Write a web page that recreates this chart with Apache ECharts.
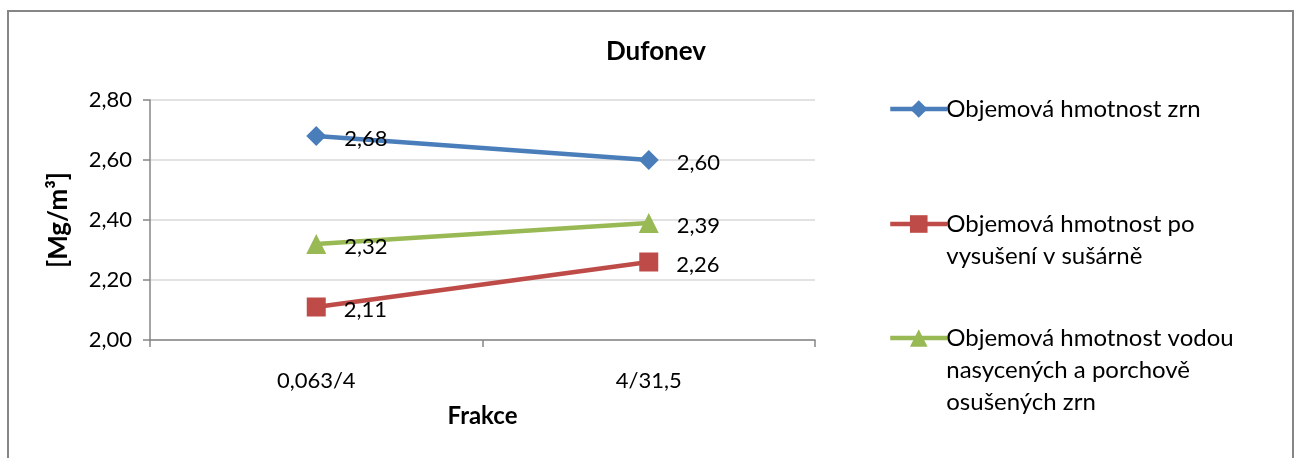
<!DOCTYPE html>
<html>
<head>
<meta charset="utf-8">
<script src="https://cdn.jsdelivr.net/npm/echarts@6/dist/echarts.min.js"></script>
<style>
  html, body { margin: 0; padding: 0; background: #fff; }
  #chart { width: 1298px; height: 458px; }
</style>
</head>
<body>
<div id="chart"></div>
<script>
// kategorie (frakce)
const categories = ['0,063/4', '4/31,5'];

// hodnoty serii
const zrn = [2.68, 2.60];
const susarna = [2.11, 2.26];
const nasycene = [2.32, 2.39];

const seriesNames = [
    'Objemová hmotnost zrn',
    'Objemová hmotnost po vysušení v sušárně',
    'Objemová hmotnost vodou nasycených a porchově osušených zrn'
];

// zalomeni textu legendy
const legendLines = [
    ['Objemová hmotnost zrn'],
    ['Objemová hmotnost po', 'vysušení v sušárně'],
    ['Objemová hmotnost vodou', 'nasycených a porchově', 'osušených zrn']
];

const yTicks = { min: 2.0, max: 2.8, interval: 0.2 };

const colors = ['#4A7EBB', '#BE4B48', '#98B954'];
const symbols = ['diamond', 'rect', 'triangle'];
const symbolSizes = [[20, 20], 19, 20];
const FONT = 'Lato';

window.onload = function () {
    let chart = echarts.init(document.getElementById('chart'));

    function fmt(v) {
        return v.toFixed(2).replace('.', ',');
    }

    let seriesData = [zrn, susarna, nasycene];
    let series = [];
    for (let i = 0; i < seriesData.length; i++) {
        series.push({
            name: seriesNames[i],
            type: 'line',
            data: seriesData[i],
            symbol: symbols[i],
            symbolSize: symbolSizes[i],
            itemStyle: { color: colors[i] },
            lineStyle: { color: colors[i], width: 4.5 },
            label: {
                show: true,
                position: 'right',
                distance: 18,
                offset: [0, 3],
                fontFamily: FONT,
                fontSize: 22,
                color: '#000',
                formatter: function (p) { return fmt(p.value); }
            },
            z: 3 - i
        });
    }

    // kazda polozka legendy zvlast, ikona u prvniho radku
    let legendTops = [108, 223, 337];
    let legends = [];
    for (let i = 0; i < seriesNames.length; i++) {
        let lines = legendLines[i];
        let pad = [];
        for (let k = 1; k < lines.length; k++) pad.push('\u00a0');
        let text = pad.concat(lines).join('\n');
        legends.push({
            data: [seriesNames[i]],
            left: 883,
            top: legendTops[i] - 20 - 32 * (lines.length - 1),
            itemWidth: 57,
            itemHeight: 22,
            itemGap: 0,
            lineStyle: { width: 4.5 },
            formatter: function () { return text; },
            textStyle: {
                fontFamily: FONT,
                fontSize: 24,
                color: '#000',
                lineHeight: 32,
                padding: [0, 0, 0, -6]
            },
            selectedMode: false
        });
    }

    let option = {
        animation: false,
        backgroundColor: '#fff',
        title: {
            text: 'Dufonev',
            left: 651,
            top: 34,
            textAlign: 'center',
            textStyle: { fontFamily: FONT, fontSize: 26, fontWeight: 'bold', color: '#000' }
        },
        graphic: [{
            type: 'rect',
            shape: { x: 8, y: 11, width: 1285, height: 470 },
            style: { fill: null, stroke: '#868686', lineWidth: 2 },
            silent: true
        }],
        legend: legends,
        grid: { left: 150, right: 483, top: 100, bottom: 118 },
        xAxis: {
            type: 'category',
            data: categories,
            boundaryGap: true,
            name: 'Frakce',
            nameLocation: 'middle',
            nameGap: 64,
            nameTextStyle: { fontFamily: FONT, fontSize: 24, fontWeight: 'bold', color: '#000' },
            axisLine: { lineStyle: { color: '#868686', width: 1.5 } },
            axisTick: { show: true, length: 7, lineStyle: { color: '#868686', width: 1.5 } },
            axisLabel: { margin: 30, fontFamily: FONT, fontSize: 22, color: '#000' }
        },
        yAxis: {
            type: 'value',
            min: yTicks.min,
            max: yTicks.max,
            interval: yTicks.interval,
            name: '[Mg/m³]',
            nameLocation: 'middle',
            nameGap: 78,
            nameRotate: 90,
            nameTextStyle: { fontFamily: FONT, fontSize: 26, fontWeight: 'bold', color: '#000' },
            axisLine: { show: true, lineStyle: { color: '#868686', width: 1.5 } },
            axisTick: { show: true, inside: false, length: 7, lineStyle: { color: '#868686', width: 1.5 } },
            splitLine: { lineStyle: { color: '#d9d9d9', width: 1.5 } },
            axisLabel: {
                margin: 18,
                fontFamily: FONT,
                fontSize: 22,
                color: '#000',
                formatter: fmt
            }
        },
        series: series
    };

    chart.setOption(option);
};
</script>
</body>
</html>
